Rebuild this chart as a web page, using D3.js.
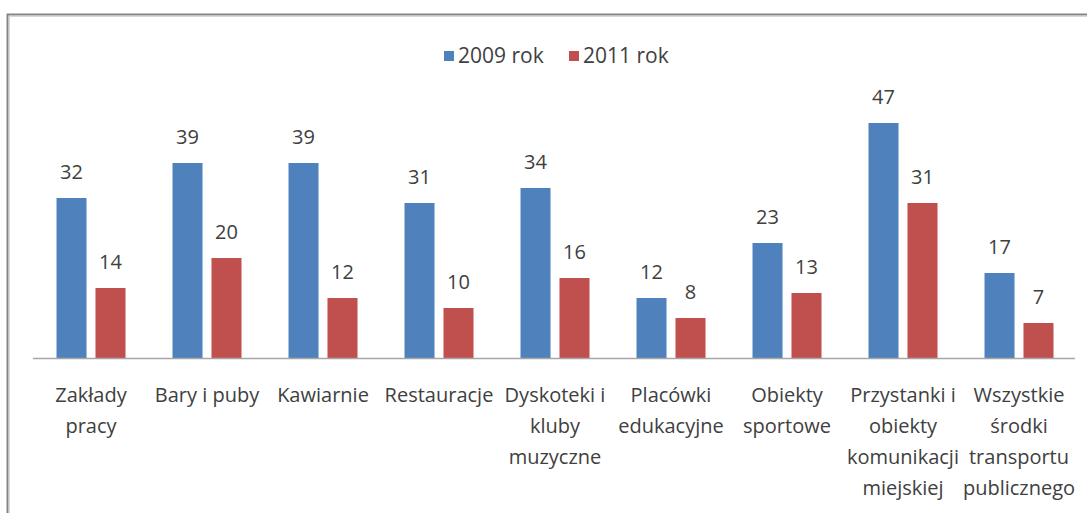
<!DOCTYPE html>
<html>
<head>
<meta charset="utf-8">
<script src="https://cdn.jsdelivr.net/npm/d3@7"></script>
<style>
html,body{margin:0;padding:0;background:#fff;overflow:hidden;}
svg{display:block;}
text{font-family:"Open Sans",sans-serif;fill:#404040;}
</style>
</head>
<body>
<svg id="chart" width="1087" height="513"></svg>
<script>
const categories = [
  ["Zakłady", "pracy"],
  ["Bary i puby"],
  ["Kawiarnie"],
  ["Restauracje"],
  ["Dyskoteki i", "kluby", "muzyczne"],
  ["Placówki", "edukacyjne"],
  ["Obiekty", "sportowe"],
  ["Przystanki i", "obiekty", "komunikacji", "miejskiej"],
  ["Wszystkie", "środki", "transportu", "publicznego"]
];
const seriesNames = ["2009 rok", "2011 rok"];
const values2009 = [32, 39, 39, 31, 34, 12, 23, 47, 17];
const values2011 = [14, 20, 12, 10, 16, 8, 13, 31, 7];
const colors = ["#4F81BD", "#C0504D"];

const svg = d3.select("#chart");

// frame
svg.append("rect").attr("x", 7.5).attr("y", 14.5).attr("width", 1200).attr("height", 600)
  .attr("fill", "#fff").attr("stroke", "#858585").attr("stroke-width", 2);
svg.append("rect").attr("x", 9.5).attr("y", 16.5).attr("width", 1200).attr("height", 600)
  .attr("fill", "none").attr("stroke", "#d8d8d8").attr("stroke-width", 1);

const idx = d3.range(categories.length);
const x = d3.scaleBand().domain(idx).range([33, 1077]).paddingInner(0).paddingOuter(0);
const x1 = d3.scaleBand().domain([0, 1]).range([-34.5, 34.5]).paddingInner(0.23);
const y = d3.scaleLinear().domain([0, 50]).range([358, 108]);

const data = idx.map(i => [values2009[i], values2011[i]]);

const g = svg.append("g");
const groups = g.selectAll("g.cat").data(data).join("g")
  .attr("transform", (d, i) => `translate(${x(i) + x.bandwidth() / 2},0)`);

groups.selectAll("rect").data(d => d.map((v, s) => ({v, s}))).join("rect")
  .attr("x", d => x1(d.s))
  .attr("width", x1.bandwidth())
  .attr("y", d => y(d.v))
  .attr("height", d => y(0) - y(d.v))
  .attr("fill", d => colors[d.s]);

groups.selectAll("text.val").data(d => d.map((v, s) => ({v, s}))).join("text")
  .attr("class", "val")
  .attr("x", d => x1(d.s) + x1.bandwidth() / 2)
  .attr("y", d => y(d.v) - 19)
  .attr("text-anchor", "middle")
  .attr("font-size", 20)
  .text(d => d.v);

// axis line
svg.append("line").attr("x1", 33).attr("x2", 1075).attr("y1", 358.5).attr("y2", 358.5)
  .attr("stroke", "#a6a6a6").attr("stroke-width", 1.5);

// category labels
const lab = svg.selectAll("text.cat").data(categories).join("text")
  .attr("class", "cat")
  .attr("text-anchor", "middle")
  .attr("font-size", 20)
  .attr("x", (d, i) => x(i) + x.bandwidth() / 2)
  .attr("y", 402);
lab.selectAll("tspan").data(d => d).join("tspan")
  .attr("x", function() { return d3.select(this.parentNode).attr("x"); })
  .attr("dy", (d, j) => j === 0 ? 0 : 31)
  .text(d => d);

// legend
const leg = svg.append("g");
const legItems = [{x: 444, tx: 458}, {x: 569, tx: 583}];
seriesNames.forEach((name, i) => {
  leg.append("rect").attr("x", legItems[i].x).attr("y", 51).attr("width", 10).attr("height", 10)
    .attr("fill", colors[i]);
  leg.append("text").attr("x", legItems[i].tx).attr("y", 63).attr("font-size", 21).text(name);
});
</script>
</body>
</html>
